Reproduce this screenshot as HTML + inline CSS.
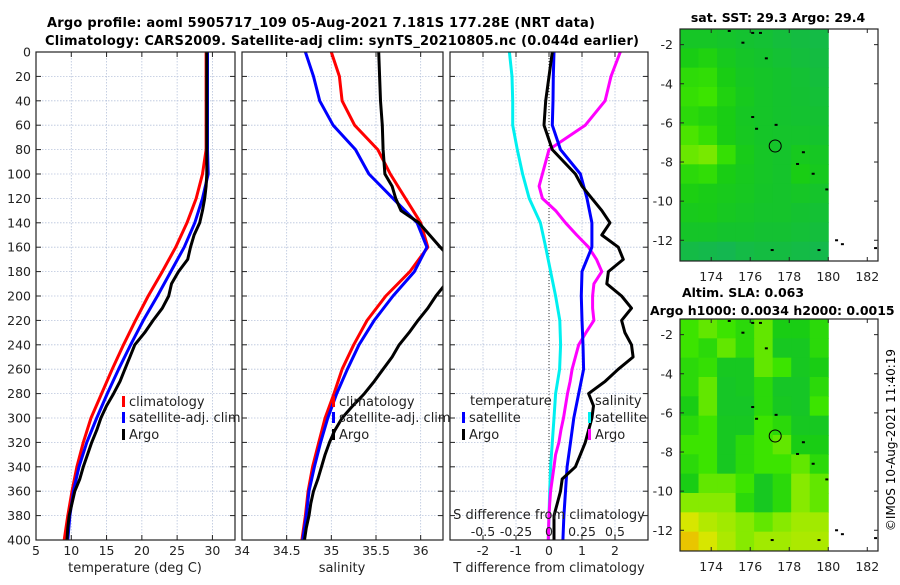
<!DOCTYPE html>
<html><head><meta charset="utf-8">
<style>
body{margin:0;background:#fff;width:900px;height:580px;overflow:hidden}
svg{font-family:"DejaVu Sans","Liberation Sans",sans-serif;}
</style></head>
<body>
<svg id="chart" width="900" height="580" viewBox="0 0 900 580">
<text x="321" y="27" text-anchor="middle" font-size="13" font-weight="bold" textLength="548">Argo profile: aoml 5905717_109 05-Aug-2021 7.181S 177.28E (NRT data)</text>
<text x="342" y="45" text-anchor="middle" font-size="13" font-weight="bold" textLength="594">Climatology: CARS2009. Satellite-adj clim: synTS_20210805.nc (0.044d earlier)</text>
<text x="778" y="22" text-anchor="middle" font-size="12.5" font-weight="bold">sat. SST: 29.3 Argo: 29.4</text>
<text x="743" y="297" text-anchor="middle" font-size="12.5" font-weight="bold">Altim. SLA: 0.063</text>
<text x="650" y="315" font-size="12.5" font-weight="bold">Argo h1000: 0.0034 h2000: 0.0015</text>
<text transform="translate(895,440) rotate(-90)" text-anchor="middle" font-size="12">©IMOS 10-Aug-2021 11:40:19</text>
</svg>
<script>
// ---------- data ----------
const depths = [0,20,40,60,80,100,120,140,160,180,200,220,240,260,280,300,320,340,360,380,400];
const tempClim = [29.1,29.1,29.1,29.1,29.1,28.6,27.7,26.4,24.8,22.9,20.9,19.1,17.4,15.8,14.3,12.8,11.7,10.8,10.1,9.5,9.0];
const tempSat  = [29.3,29.3,29.3,29.3,29.3,29.4,28.6,27.5,26.0,24.1,22.2,20.2,18.4,16.7,15.1,13.6,12.2,11.1,10.3,9.8,9.5];
const argoDepths = [0,20,40,60,80,100,110,120,130,140,150,160,170,180,190,200,210,220,230,240,250,260,270,280,290,300,310,320,330,340,350,360,370,380,390,400];
const tempArgo = [29.2,29.2,29.2,29.2,29.2,29.2,29.1,28.9,28.6,28.2,27.4,26.9,26.5,25.2,24.2,23.8,22.9,21.6,20.4,19.0,18.3,17.6,16.9,16.0,15.0,14.2,13.6,12.9,12.3,11.7,11.2,10.5,10.1,9.7,9.5,9.4];
const salClim = [35.0,35.09,35.12,35.26,35.52,35.66,35.83,36.0,36.08,35.88,35.61,35.40,35.25,35.12,35.03,34.93,34.86,34.79,34.74,34.71,34.67];
const salSat  = [34.71,34.80,34.87,35.02,35.27,35.42,35.69,35.96,36.07,35.93,35.69,35.48,35.31,35.18,35.06,34.96,34.88,34.81,34.75,34.72,34.68];
const salArgo = [35.53,35.54,35.55,35.57,35.58,35.60,35.68,35.72,35.78,35.98,36.10,36.22,36.35,36.35,36.28,36.17,36.08,35.97,35.87,35.76,35.68,35.58,35.48,35.37,35.24,35.12,35.04,34.98,34.93,34.89,34.85,34.80,34.77,34.75,34.72,34.70];
const diffSalSat = [-0.30,-0.28,-0.275,-0.275,-0.24,-0.20,-0.15,-0.065,-0.025,0.012,0.05,0.082,0.088,0.08,0.05,0.038,0.025,0.012,0.005,0.0,-0.005];
const diffTempSat = [0.15,0.13,0.12,0.10,0.35,0.95,1.15,1.3,1.3,1.0,0.98,1.0,1.03,1.05,0.9,0.75,0.65,0.55,0.5,0.45,0.42];
const diffTempArgo = [0.1,0.0,-0.1,-0.15,0.1,0.8,1.0,1.3,1.6,1.85,1.6,2.1,2.25,1.8,1.75,2.2,2.5,2.2,2.3,2.5,2.55,2.1,1.7,1.2,1.35,1.3,1.2,1.1,0.95,0.8,0.4,0.35,0.25,0.15,0.15,0.15];
const diffSalArgo = [0.54,0.47,0.425,0.275,0.0,-0.05,-0.075,-0.05,0.05,0.125,0.21,0.30,0.36,0.40,0.34,0.33,0.33,0.34,0.28,0.225,0.20,0.175,0.16,0.14,0.125,0.11,0.09,0.075,0.05,0.038,0.025,0.012,0.005,0.0,-0.003,-0.005];
const depthTicks = [0,20,40,60,80,100,120,140,160,180,200,220,240,260,280,300,320,340,360,380,400];
const tempTicks = [5,10,15,20,25,30];
const salTicks = [34,34.5,35,35.5,36];
const tdiffTicks = [-2,-1,0,1,2];
const sdiffTicks = [-0.5,-0.25,0,0.25,0.5];
const sdiffLabels = ["-0.5","-0.25","0","0.25","0.5"];
const lonTicks = [174,176,178,180,182];
const latTicks = [-2,-4,-6,-8,-10,-12];
const sstGrid = [
[.33,.33,.31,.29,.27,.24,.22,.20],
[.40,.42,.36,.32,.30,.27,.24,.22],
[.46,.47,.40,.34,.32,.30,.27,.24],
[.48,.50,.42,.36,.32,.30,.28,.26],
[.45,.43,.40,.34,.32,.30,.29,.28],
[.52,.48,.40,.35,.32,.31,.31,.30],
[.56,.58,.48,.38,.33,.31,.36,.34],
[.45,.47,.40,.36,.33,.31,.40,.36],
[.41,.39,.37,.35,.32,.31,.33,.31],
[.37,.38,.35,.33,.31,.31,.29,.27],
[.32,.32,.30,.30,.28,.28,.26,.24],
[.20,.18,.16,.20,.22,.22,.20,.18]];
const slaGrid = [
[.50,.55,.50,.45,.55,.40,.40,.45],
[.50,.45,.55,.45,.55,.35,.35,.45],
[.45,.48,.35,.35,.55,.50,.35,.40],
[.45,.55,.33,.35,.45,.33,.33,.45],
[.40,.55,.33,.33,.45,.35,.33,.50],
[.45,.50,.35,.35,.50,.45,.35,.35],
[.50,.50,.35,.45,.50,.55,.40,.40],
[.45,.50,.35,.45,.50,.50,.55,.45],
[.40,.55,.55,.50,.35,.45,.60,.55],
[.60,.60,.60,.45,.35,.45,.60,.55],
[.80,.70,.65,.60,.55,.60,.65,.65],
[.92,.80,.68,.60,.65,.65,.68,.68]];
const argoLon = 177.28, argoLat = -7.181;

// ---------- helpers ----------
const NS="http://www.w3.org/2000/svg";
const svg=document.getElementById('chart');
function mk(tag,attrs,parent){const e=document.createElementNS(NS,tag);for(const k in attrs)e.setAttribute(k,attrs[k]);(parent||svg).appendChild(e);return e;}
const Y0=52,Y1=540;
function yD(d){return Y0+(d/400)*(Y1-Y0);}
function lin(d0,d1,r0,r1){return v=>r0+(v-d0)/(d1-d0)*(r1-r0);}
const P1={x0:36,x1:235,sx:lin(5,33.2,36,235)};
const P2={x0:242,x1:443,sx:lin(34,36.25,242,443)};
const P3={x0:450,x1:648,sx:lin(-3,3,450,648)};
const sS3=lin(-0.75,0.75,450,648);

function panelFrame(P,name,xt,xtLabels){
  const g=mk('g',{});
  
  
  for(const d of depthTicks){ if(d>0&&d<400){const l=mk('line',{x1:P.x0,x2:P.x1,y1:yD(d),y2:yD(d),stroke:'#b8c4dc','stroke-width':0.8,'stroke-dasharray':'1.5,1.5'},g);
    
    }
    mk('line',{x1:P.x0,x2:P.x0+5,y1:yD(d),y2:yD(d),stroke:'#222'},g);
    mk('line',{x1:P.x1,x2:P.x1-5,y1:yD(d),y2:yD(d),stroke:'#222'},g);}
  xt.forEach((v,i)=>{const x=P.sx(v);
    if(x>P.x0+1&&x<P.x1-1){const l=mk('line',{x1:x,x2:x,y1:Y0,y2:Y1,stroke:'#b8c4dc','stroke-width':0.8,'stroke-dasharray':'1.5,1.5'},g);
      
      }
    mk('line',{x1:x,x2:x,y1:Y1,y2:Y1-5,stroke:'#222'},g);
    mk('line',{x1:x,x2:x,y1:Y0,y2:Y0+5,stroke:'#222'},g);
    const t=mk('text',{x:x,y:555,'text-anchor':'middle','font-size':12.5,fill:'#222'},g);
    t.textContent=xtLabels?xtLabels[i]:String(v);
    
    });
  return g;
}
function frameBox(P,name){const r=mk('rect',{x:P.x0,y:Y0,width:P.x1-P.x0,height:Y1-Y0,fill:'none',stroke:'#222','stroke-width':1.2});
  
  }
function curve(xs,ds,sx,color,name,clip){
  const pts=xs.map((v,i)=>sx(v).toFixed(1)+','+yD(ds[i]).toFixed(1)).join(' ');
  const p=mk('polyline',{points:pts,fill:'none',stroke:color,'stroke-width':3,'stroke-linejoin':'round','clip-path':'url(#'+clip+')'});
  
  
}
function legendItem(x,y,color,label,name){
  const g=mk('g',{});
  
  
  mk('rect',{x:x,y:y-10,width:3,height:11,fill:color},g);
  const t=mk('text',{x:x+7,y:y,'font-size':13,fill:'#222'},g);t.textContent=label;
}
const defs=mk('defs',{});
[['c1',P1],['c2',P2],['c3',P3]].forEach(([id,P])=>{const c=mk('clipPath',{id:id},defs);mk('rect',{x:P.x0,y:Y0,width:P.x1-P.x0,height:Y1-Y0},c);});

// Panel 1
panelFrame(P1,'temperature-panel',tempTicks);
depthTicks.forEach(d=>{const t=mk('text',{x:31,y:yD(d)+4.5,'text-anchor':'end','font-size':12.5,fill:'#222'});t.textContent=d;
  
  });
curve(tempClim,depths,P1.sx,'#f00','temp-climatology-line','c1');
curve(tempSat,depths,P1.sx,'#00f','temp-satellite-line','c1');
curve(tempArgo,argoDepths,P1.sx,'#000','temp-argo-line','c1');
frameBox(P1,'temperature-axes');
{const t=mk('text',{x:135,y:572,'text-anchor':'middle','font-size':13,fill:'#222'});t.textContent='temperature (deg C)';
 
 }
legendItem(122,406,'#f00','climatology','legend-climatology');
legendItem(122,422,'#00f','satellite-adj. clim','legend-satellite-adj');
legendItem(122,439,'#000','Argo','legend-argo');

// Panel 2
panelFrame(P2,'salinity-panel',salTicks);
curve(salClim,depths,P2.sx,'#f00','sal-climatology-line','c2');
curve(salSat,depths,P2.sx,'#00f','sal-satellite-line','c2');
curve(salArgo,argoDepths,P2.sx,'#000','sal-argo-line','c2');
frameBox(P2,'salinity-axes');
{const t=mk('text',{x:342,y:572,'text-anchor':'middle','font-size':13,fill:'#222'});t.textContent='salinity';
 
 }
legendItem(332,406,'#f00','climatology','legend2-climatology');
legendItem(332,422,'#00f','satellite-adj. clim','legend2-satellite-adj');
legendItem(332,439,'#000','Argo','legend2-argo');

// Panel 3
panelFrame(P3,'difference-panel',tdiffTicks);
{const l=mk('line',{x1:P3.sx(0),x2:P3.sx(0),y1:Y0,y2:Y1,stroke:'#333','stroke-width':1,'stroke-dasharray':'1,2'});
 
 }
curve(diffSalSat,depths,sS3,'#00f0f0','sal-diff-satellite-line','c3');
curve(diffSalArgo,argoDepths,sS3,'#f0f','sal-diff-argo-line','c3');
curve(diffTempSat,depths,P3.sx,'#00f','temp-diff-satellite-line','c3');
curve(diffTempArgo,argoDepths,P3.sx,'#000','temp-diff-argo-line','c3');
frameBox(P3,'difference-axes');
sdiffTicks.forEach((v,i)=>{const t=mk('text',{x:sS3(v),y:536,'text-anchor':'middle','font-size':12.5,fill:'#222'});t.textContent=sdiffLabels[i];
  
  });
{const t=mk('text',{x:549,y:519,'text-anchor':'middle','font-size':13,fill:'#222'});t.textContent='S difference from climatology';
 
 }
{const t=mk('text',{x:549,y:572,'text-anchor':'middle','font-size':13,fill:'#222'});t.textContent='T difference from climatology';
 
 }
{const t=mk('text',{x:470,y:405,'font-size':13,fill:'#222'});t.textContent='temperature';
 
 }
{const t=mk('text',{x:595,y:405,'font-size':13,fill:'#222'});t.textContent='salinity';
 
 }
legendItem(462,422,'#00f','satellite','legend3-temp-satellite');
legendItem(462,439,'#000','Argo','legend3-temp-argo');
legendItem(588,422,'#00f0f0','satellite','legend3-sal-satellite');
legendItem(588,439,'#f0f','Argo','legend3-sal-argo');

// ---------- maps ----------
const stops=[[0,[20,170,120]],[0.3,[20,195,45]],[0.4,[25,205,20]],[0.5,[60,228,0]],[0.62,[150,235,0]],[0.8,[215,230,0]],[1,[245,175,0]]];
function cmap(v){for(let i=1;i<stops.length;i++){if(v<=stops[i][0]){const a=stops[i-1],b=stops[i];const t=(v-a[0])/(b[0]-a[0]);
  return 'rgb('+a[1].map((c,k)=>Math.round(c+(b[1][k]-c)*t)).join(',')+')';}}return 'rgb(245,175,0)';}
function drawMap(grid,top,bottom,name){
  const M={x0:680,x1:878,y0:top,y1:bottom};
  const sx=lin(172.4,182.55,M.x0,M.x1), sy=lin(-1.2,-13.06,top,bottom);
  const g=mk('g',{});
  
  
  const nr=grid.length,nc=grid[0].length;
  const lonW=(180-172.4)/nc, latH=(13.06-1.2)/nr;
  grid.forEach((row,r)=>row.forEach((v,c)=>{
    const x=sx(172.4+c*lonW), y=sy(-1.2-r*latH);
    const cell=mk('rect',{x:x.toFixed(2),y:y.toFixed(2),width:(sx(172.4+(c+1)*lonW)-x+0.5).toFixed(2),height:(sy(-1.2-(r+1)*latH)-y+0.5).toFixed(2),fill:cmap(v)},g);
    
    
  }));
  const marks=[[174.9,-1.3],[176.1,-1.4],[176.5,-1.4],[175.6,-1.9],[176.8,-2.7],[176.1,-5.7],[176.3,-6.3],[177.3,-6.1],[178.7,-7.5],[178.4,-8.1],[179.2,-8.6],[179.9,-9.4],[177.1,-12.5],[179.5,-12.5],[180.4,-12.0],[180.7,-12.2],[182.4,-12.4]];
  marks.forEach(m=>{const d=mk('rect',{x:sx(m[0])-1,y:sy(m[1])-1,width:3,height:2,fill:'#000'},g);
    
    });
  const circ=mk('circle',{cx:sx(argoLon),cy:sy(argoLat),r:6,fill:'none',stroke:'#000','stroke-width':1},g);
  
  
  const fr=mk('rect',{x:M.x0,y:top,width:M.x1-M.x0,height:bottom-top,fill:'none',stroke:'#222','stroke-width':1.2},g);
  
  
  lonTicks.forEach(v=>{const x=sx(v);
    mk('line',{x1:x,x2:x,y1:bottom,y2:bottom-4,stroke:'#222'},g);
    mk('line',{x1:x,x2:x,y1:top,y2:top+4,stroke:'#222'},g);
    const t=mk('text',{x:x,y:bottom+20,'text-anchor':'middle','font-size':12.5,fill:'#222'},g);t.textContent=v;
    
    });
  latTicks.forEach(v=>{const y=sy(v);
    mk('line',{x1:M.x0,x2:M.x0+4,y1:y,y2:y,stroke:'#222'},g);
    mk('line',{x1:M.x1,x2:M.x1-4,y1:y,y2:y,stroke:'#222'},g);
    const t=mk('text',{x:673,y:y+4.5,'text-anchor':'end','font-size':12.5,fill:'#222'},g);t.textContent=v;
    
    });
}
drawMap(sstGrid,29,261,'sst-map');
drawMap(slaGrid,319,551,'sla-map');
</script>
</body></html>
